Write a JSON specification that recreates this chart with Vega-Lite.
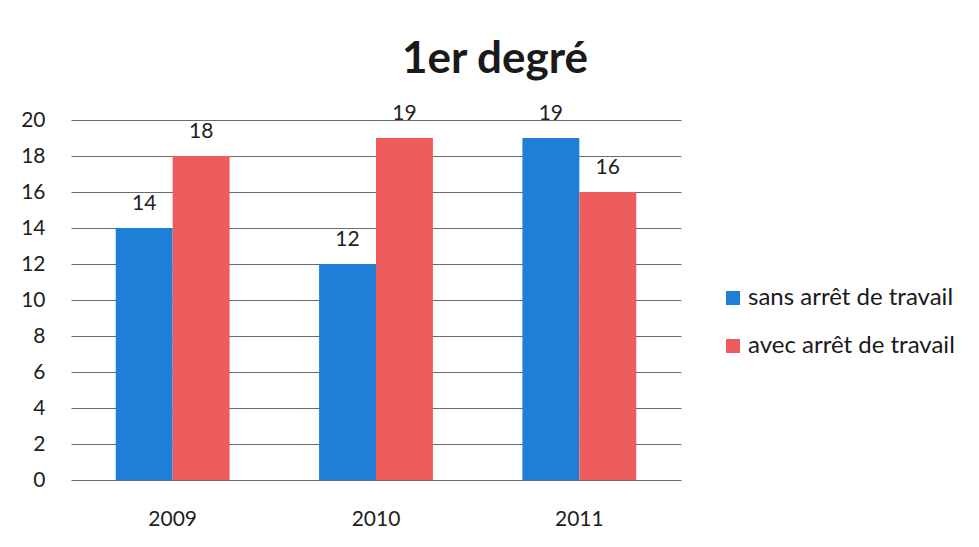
{
  "$schema": "https://vega.github.io/schema/vega-lite/v6.json",
  "width": 610,
  "height": 360,
  "autosize": {"type": "none"},
  "padding": {"left": 71, "top": 120, "right": 298, "bottom": 67},
  "background": "white",
  "title": {
    "text": "1er degré",
    "font": "Lato",
    "fontSize": 44,
    "fontWeight": "bold",
    "color": "#1a1a1a",
    "anchor": "middle",
    "frame": "group",
    "dx": 119,
    "offset": 21
  },
  "config": {
    "view": {"stroke": null},
    "font": "Lato"
  },
  "data": {
    "values": [
      {"annee": "2009", "serie": "sans arrêt de travail", "valeur": 14},
      {"annee": "2009", "serie": "avec arrêt de travail", "valeur": 18},
      {"annee": "2010", "serie": "sans arrêt de travail", "valeur": 12},
      {"annee": "2010", "serie": "avec arrêt de travail", "valeur": 19},
      {"annee": "2011", "serie": "sans arrêt de travail", "valeur": 19},
      {"annee": "2011", "serie": "avec arrêt de travail", "valeur": 16}
    ]
  },
  "encoding": {
    "x": {
      "field": "annee",
      "type": "nominal",
      "title": null,
      "scale": {"paddingInner": 0.44, "paddingOuter": 0.22},
      "axis": {
        "labelAngle": 0,
        "labelFont": "Lato",
        "labelFontSize": 21,
        "labelColor": "#1e1e1e",
        "labelPadding": 28,
        "ticks": false,
        "domain": false
      }
    },
    "xOffset": {
      "field": "serie",
      "type": "nominal",
      "sort": ["sans arrêt de travail", "avec arrêt de travail"],
      "scale": {"paddingInner": 0, "paddingOuter": 0}
    },
    "y": {
      "field": "valeur",
      "type": "quantitative",
      "title": null,
      "scale": {"domain": [0, 20], "nice": false},
      "axis": {
        "values": [0, 2, 4, 6, 8, 10, 12, 14, 16, 18, 20],
        "labelFont": "Lato",
        "labelFontSize": 21,
        "labelColor": "#1e1e1e",
        "labelPadding": 26,
        "ticks": false,
        "domain": false,
        "grid": true,
        "gridColor": "#6a6a6a",
        "gridWidth": 1
      }
    }
  },
  "layer": [
    {
      "mark": {"type": "bar"},
      "encoding": {
        "color": {
          "field": "serie",
          "type": "nominal",
          "sort": ["sans arrêt de travail", "avec arrêt de travail"],
          "scale": {
            "domain": ["sans arrêt de travail", "avec arrêt de travail"],
            "range": ["#1f7fd8", "#ee5c5e"]
          },
          "legend": {
            "title": null,
            "orient": "none",
            "legendX": 650,
            "legendY": 166,
            "symbolType": "square",
            "symbolSize": 196,
            "symbolStrokeWidth": 0,
            "labelFont": "Lato",
            "labelFontSize": 24,
            "labelColor": "#1a1a1a",
            "labelOffset": 3,
            "labelLimit": 400,
            "rowPadding": 24,
            "padding": 0
          }
        }
      }
    },
    {
      "mark": {
        "type": "text",
        "baseline": "middle",
        "dy": -24,
        "font": "Lato",
        "fontSize": 21,
        "color": "#222222"
      },
      "encoding": {
        "text": {"field": "valeur", "type": "quantitative"}
      }
    }
  ]
}
